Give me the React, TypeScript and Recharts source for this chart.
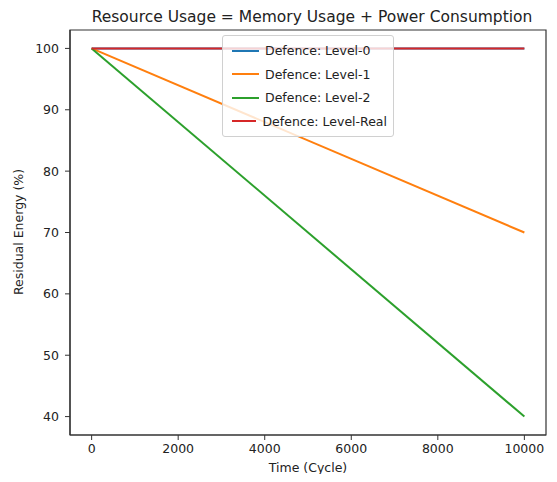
import React from 'react';
import { LineChart, Line, XAxis, YAxis, ReferenceArea } from 'recharts';

const cycles = [0, 10000];
const level0 = [100, 100];
const level1 = [100, 70];
const level2 = [100, 40];
const levelReal = [100, 100];
const xTicks = [0, 2000, 4000, 6000, 8000, 10000];
const yTicks = [40, 50, 60, 70, 80, 90, 100];
const xDomain = [-500, 10500];
const yDomain = [37, 103];

const seriesNames = ['Defence: Level-0', 'Defence: Level-1', 'Defence: Level-2', 'Defence: Level-Real'];
const seriesColors = ['#1f77b4', '#ff7f0e', '#2ca02c', '#d62728'];
const seriesKeys = ['l0', 'l1', 'l2', 'lr'];

const data = cycles.map((c, i) => ({ x: c, l0: level0[i], l1: level1[i], l2: level2[i], lr: levelReal[i] }));

const FONT = 'DejaVu Sans, sans-serif';

const LegendBox = () => (
  <div
    style={{
      position: 'absolute',
      left: 214,
      top: 27,
      boxSizing: 'border-box',
      border: '1px solid #d0d0d0',
      borderRadius: 3,
      background: 'rgba(255,255,255,0.8)',
      padding: '3px 6px 3px 9px',
      fontFamily: FONT,
      fontSize: 12.5,
      color: '#222',
      width: 172,
      whiteSpace: 'nowrap',
    }}
  >
    {seriesNames.map((n, i) => (
      <div key={n} style={{ display: 'flex', alignItems: 'center', height: 23.5 }}>
        <span style={{ display: 'inline-block', width: 27, height: 2, background: seriesColors[i], marginRight: 6 }} />
        <span>{n}</span>
      </div>
    ))}
  </div>
);

export default function App() {
  return (
    <div style={{ fontFamily: FONT, position: 'relative', width: 541, height: 466 }}>
      <LineChart width={541} height={466} data={data} margin={{ top: 22, right: 3, bottom: 0, left: 0 }}>
        <text x={304} y={14} textAnchor="middle" fontFamily={FONT} fontSize={15.5} fill="#222">
          Resource Usage = Memory Usage + Power Consumption
        </text>
        <text
          x={0}
          y={0}
          transform="translate(15, 224) rotate(-90)"
          textAnchor="middle"
          fontFamily={FONT}
          fontSize={12.5}
          fill="#222"
        >
          Residual Energy (%)
        </text>
        <XAxis
          type="number"
          dataKey="x"
          domain={xDomain}
          ticks={xTicks}
          allowDataOverflow
          height={39}
          tickSize={5}
          tickMargin={4}
          stroke="#333"
          tick={{ fill: '#222', fontSize: 12.5, fontFamily: FONT }}
          tickLine={{ stroke: '#333' }}
          axisLine={{ stroke: '#333', strokeWidth: 1.2 }}
          label={{ value: 'Time (Cycle)', position: 'insideBottom', offset: 2, fill: '#222', fontSize: 12.5, fontFamily: FONT }}
        />
        <YAxis
          type="number"
          domain={yDomain}
          ticks={yTicks}
          allowDataOverflow
          width={62}
          tickSize={5}
          tickMargin={6}
          tick={{ fill: '#222', fontSize: 12.5, fontFamily: FONT }}
          tickLine={{ stroke: '#333' }}
          axisLine={{ stroke: '#333', strokeWidth: 1.2 }}
        />
        <ReferenceArea
          x1={xDomain[0]}
          x2={xDomain[1]}
          y1={yDomain[0]}
          y2={yDomain[1]}
          fill="none"
          fillOpacity={0}
          stroke="#333"
          strokeWidth={1.2}
          ifOverflow="visible"
        />
        {seriesKeys.map((k, i) => (
          <Line
            key={k}
            type="linear"
            dataKey={k}
            name={seriesNames[i]}
            stroke={seriesColors[i]}
            strokeWidth={2}
            dot={false}
            isAnimationActive={false}
          />
        ))}
      </LineChart>
      <LegendBox />
    </div>
  );
}
